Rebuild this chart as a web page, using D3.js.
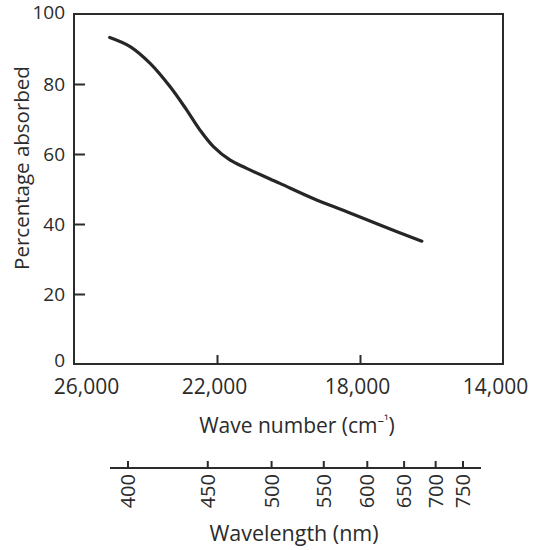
<!DOCTYPE html>
<html>
<head>
<meta charset="utf-8">
<script src="https://cdn.jsdelivr.net/npm/d3@7"></script>
<style>
  html, body { margin: 0; padding: 0; background: #ffffff; }
  svg { display: block; }
  text { font-family: "Open Sans", "DejaVu Sans", sans-serif; fill: #2b2b2b; }
</style>
</head>
<body>
<svg id="chart" width="534" height="550"></svg>
<script>
// Absorption curve: wave number (cm^-1) vs percentage absorbed
const waveNumbers = [25000, 24430, 23870, 23310, 22850, 22480, 22100, 21640, 21170, 20240, 19310, 18370, 17440, 16270];
const absorbed    = [93.3, 90.7, 85.9, 79.2, 72.6, 66.9, 62.1, 58.3, 55.9, 51.6, 47.3, 43.5, 39.7, 35.1];

const yTicks = [0, 20, 40, 60, 80, 100];
const xTicks = [26000, 22000, 18000, 14000];
const wavelengthTicks = [400, 450, 500, 550, 600, 650, 700, 750];

const yTitle = "Percentage absorbed";
const xTitleMain = "Wave number (cm";
const xTitleSup = "\u2013\u00B9";
const xTitleEnd = ")";
const wlTitle = "Wavelength (nm)";

const svg = d3.select("#chart");
const ink = "#2b2b2b";

const frame = { left: 74, right: 503, top: 14, bottom: 364 };

const x = d3.scaleLinear().domain([26000, 14000]).range([frame.left, frame.right]);
const y = d3.scaleLinear().domain([0, 100]).range([frame.bottom, frame.top]);

// plot frame
svg.append("rect")
  .attr("x", frame.left).attr("y", frame.top)
  .attr("width", frame.right - frame.left).attr("height", frame.bottom - frame.top)
  .attr("fill", "none").attr("stroke", ink).attr("stroke-width", 2);

// left axis: inward ticks, labels outside
const yAxis = d3.axisLeft(y).tickValues(yTicks).tickSize(0).tickPadding(9)
  .tickFormat(d3.format("d"));
const gy = svg.append("g").attr("transform", `translate(${frame.left},0)`).call(yAxis);
gy.select(".domain").remove();
gy.selectAll(".tick text").attr("font-size", 19).attr("fill", ink)
  .style("font-family", "'Open Sans', sans-serif")
  .attr("dy", d => d === 100 ? "0.22em" : (d === 0 ? "0.15em" : "0.32em"));
gy.selectAll(".tick").filter(d => d > 0 && d < 100).append("line")
  .attr("x1", 0).attr("x2", 11).attr("stroke", ink).attr("stroke-width", 2);

// bottom axis: inward ticks, labels outside
const xAxis = d3.axisBottom(x).tickValues(xTicks).tickSize(0).tickPadding(15)
  .tickFormat(d3.format(","));
const gx = svg.append("g").attr("transform", `translate(0,${frame.bottom})`).call(xAxis);
gx.select(".domain").remove();
gx.selectAll(".tick text").attr("font-size", 21).attr("fill", ink)
  .style("font-family", "'Open Sans', sans-serif")
  .attr("dy", "0.71em")
  .attr("dx", (d, i) => i === 0 ? 12 : (i === xTicks.length - 1 ? -8 : -3));
gx.selectAll(".tick").filter((d, i) => i > 0 && i < xTicks.length - 1).append("line")
  .attr("y1", 0).attr("y2", -9).attr("stroke", ink).attr("stroke-width", 2);

// absorption curve
const pts = waveNumbers.map((w, i) => [w, absorbed[i]]);
svg.append("path")
  .datum(pts)
  .attr("fill", "none").attr("stroke", "#262626").attr("stroke-width", 3.2)
  .attr("stroke-linecap", "round")
  .attr("d", d3.line().x(d => x(d[0])).y(d => y(d[1])).curve(d3.curveCatmullRom.alpha(0.5)));

// axis titles
svg.append("text")
  .attr("transform", "translate(29,168) rotate(-90)")
  .attr("text-anchor", "middle").attr("font-size", 20.5)
  .text(yTitle);

const xt = svg.append("text")
  .attr("x", 297).attr("y", 433)
  .attr("text-anchor", "middle").attr("font-size", 21);
xt.append("tspan").text(xTitleMain);
xt.append("tspan").attr("font-size", 13).attr("dy", -8).text(xTitleSup);
xt.append("tspan").attr("dy", 8).text(xTitleEnd);

// wavelength scale (nm), laid out in reciprocal wavelength
const wl = d3.scaleLinear()
  .domain([1e7 / 400, 1e7 / 750])
  .range([128, 463]);
const wlY = 468;
svg.append("line")
  .attr("x1", 110).attr("x2", 481).attr("y1", wlY).attr("y2", wlY)
  .attr("stroke", ink).attr("stroke-width", 2);
const wlTick = svg.append("g").selectAll("g").data(wavelengthTicks).join("g")
  .attr("transform", d => `translate(${wl(1e7 / d)},${wlY})`);
wlTick.append("line").attr("y1", 0).attr("y2", -7).attr("stroke", ink).attr("stroke-width", 2);
wlTick.append("text")
  .attr("transform", "translate(0,6) rotate(-90)")
  .attr("text-anchor", "end").attr("dy", "0.36em").attr("font-size", 20)
  .text(d => d);

svg.append("text")
  .attr("x", 294).attr("y", 541)
  .attr("text-anchor", "middle").attr("font-size", 21.5)
  .text(wlTitle);
</script>
</body>
</html>
